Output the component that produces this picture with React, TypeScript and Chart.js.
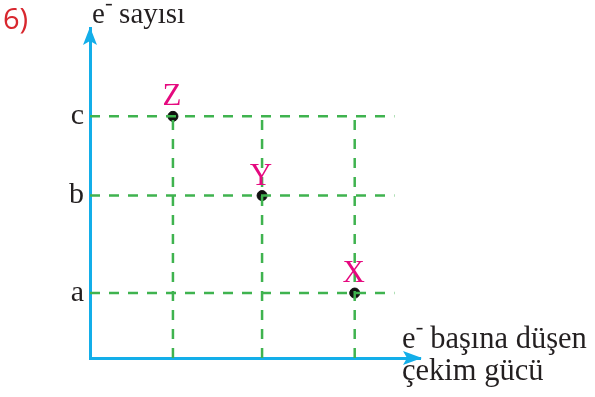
import React, { useEffect, useRef } from "react";
import { Chart, registerables } from "chart.js";

Chart.register(...registerables);

const pointNames = ["Z", "Y", "X"];
const xValues = [0.94, 1.95, 3.0];
const yValues = [3.72, 2.5, 1.0];
const yTickValues = [1.0, 2.5, 3.72];
const yTickLabels = ["a", "b", "c"];
const gridXEnd = 3.45;
const xMax = 3.74;
const yMax = 5.08;

const BLUE = "#13aee9";
const GREEN = "#3fb34f";
const MAGENTA = "#e5097f";
const RED = "#d8272e";
const SERIF = "'Liberation Serif', 'DejaVu Serif', serif";

const overlay = {
  id: "overlay",
  afterDatasetsDraw(chart: any) {
    const ctx = chart.ctx;
    const area = chart.chartArea;
    const xs = chart.scales.x;
    const ys = chart.scales.y;
    ctx.save();
    // arrowheads
    ctx.fillStyle = BLUE;
    const ax = xs.getPixelForValue(0);
    const ay = ys.getPixelForValue(0);
    const topY = ys.getPixelForValue(yMax);
    ctx.beginPath();
    ctx.moveTo(ax, topY - 1);
    ctx.lineTo(ax - 7, topY + 17);
    ctx.lineTo(ax, topY + 13);
    ctx.lineTo(ax + 7, topY + 17);
    ctx.closePath();
    ctx.fill();
    const rightX = xs.getPixelForValue(xMax);
    ctx.beginPath();
    ctx.moveTo(rightX + 2, ay);
    ctx.lineTo(rightX - 17, ay - 7);
    ctx.lineTo(rightX - 13, ay);
    ctx.lineTo(rightX - 17, ay + 7);
    ctx.closePath();
    ctx.fill();

    // point labels
    const meta = chart.getDatasetMeta(chart.data.datasets.length - 1);
    ctx.fillStyle = MAGENTA;
    ctx.font = `31px ${SERIF}`;
    ctx.textAlign = "center";
    ctx.textBaseline = "alphabetic";
    meta.data.forEach((el: any, i: number) => {
      ctx.fillText(pointNames[i], el.x - 1, el.y - 11);
    });

    // "6)"
    ctx.textAlign = "left";
    ctx.fillStyle = RED;
    ctx.font = "29px 'Open Sans', 'Noto Sans', sans-serif";
    ctx.fillText("6)", 3, 29);

    // titles with superscript minus
    const drawE = (x: number, y: number, rest: string, size: number) => {
      ctx.fillStyle = "#231f20";
      ctx.font = `${size}px ${SERIF}`;
      ctx.fillText("e", x, y);
      const w = ctx.measureText("e").width;
      ctx.fillRect(x + w + 1, y - size * 0.66, 6, 1.6);
      ctx.fillText(rest, x + w + 7, y);
    };
    drawE(area.left + 2, 23, " sayısı", 29);
    drawE(402, 348, " başına düşen", 30.5);
    ctx.fillText("çekim gücü", 402, 380);
    ctx.restore();
  },
};

export default function App() {
  const ref = useRef<HTMLCanvasElement | null>(null);
  useEffect(() => {
    if (!ref.current) return;
    const dashed = (data: any[]) => ({
      data,
      showLine: true,
      borderColor: GREEN,
      borderWidth: 2.5,
      borderDash: [10, 9],
      pointRadius: 0,
      fill: false,
    });
    const datasets: any[] = [];
    yTickValues.forEach((v) => datasets.push(dashed([{ x: 0, y: v }, { x: gridXEnd, y: v }])));
    xValues.forEach((v) => datasets.push(dashed([{ x: v, y: 0 }, { x: v, y: Math.max(...yValues) }])));
    datasets.push({
      data: xValues.map((x, i) => ({ x, y: yValues[i] })),
      backgroundColor: "#111",
      borderColor: "#111",
      pointRadius: 5,
      showLine: false,
    });
    const chart = new Chart(ref.current, {
      type: "scatter",
      data: { datasets },
      plugins: [overlay],
      options: {
        animation: false,
        responsive: true,
        maintainAspectRatio: false,
        layout: { padding: { left: 0, top: 28, right: 175, bottom: 0 } },
        plugins: { legend: { display: false }, tooltip: { enabled: false } },
        scales: {
          x: {
            type: "linear",
            min: 0,
            max: xMax,
            grid: { display: false, drawTicks: false },
            border: { display: true, color: BLUE, width: 3 },
            ticks: { display: false },
            afterFit(scale: any) {
              scale.height = 39;
            },
          },
          y: {
            type: "linear",
            min: 0,
            max: yMax,
            grid: { display: false, drawTicks: false },
            border: { display: true, color: BLUE, width: 3 },
            afterBuildTicks(scale: any) {
              scale.ticks = yTickValues.map((v) => ({ value: v }));
            },
            ticks: {
              color: "#231f20",
              padding: 6,
              font: { family: SERIF, size: 30 },
              callback(value: any) {
                const i = yTickValues.indexOf(Number(value));
                return i >= 0 ? yTickLabels[i] : "";
              },
            },
            afterFit(scale: any) {
              scale.width = 90;
            },
          },
        },
      },
    });
    return () => chart.destroy();
  }, []);
  return (
    <div style={{ position: "fixed", left: 0, top: 0, width: 595, height: 397, background: "#fff" }}>
      <canvas ref={ref} />
    </div>
  );
}
